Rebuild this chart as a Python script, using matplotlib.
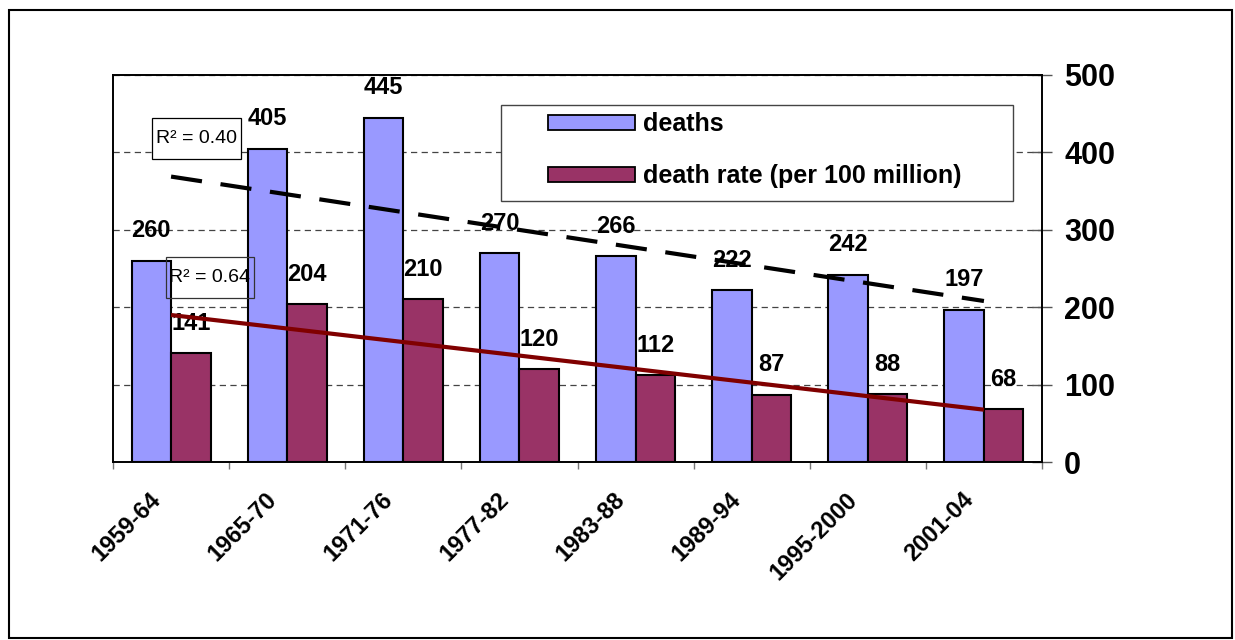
import matplotlib
matplotlib.use('Agg')
import matplotlib.pyplot as plt
import matplotlib.transforms as mtransforms
from matplotlib.patches import Rectangle, Patch
import numpy as np

# ---- data ----
categories = ['1959-64', '1965-70', '1971-76', '1977-82', '1983-88', '1989-94', '1995-2000', '2001-04']
deaths = [260, 405, 445, 270, 266, 222, 242, 197]
death_rate = [141, 204, 210, 120, 112, 87, 88, 68]
series_names = ['deaths', 'death rate (per 100 million)']
r2_labels = ['R\u00b2 = 0.40', 'R\u00b2 = 0.64']
y_ticks = [0, 100, 200, 300, 400, 500]

plt.rcParams['font.family'] = ['Liberation Sans', 'DejaVu Sans']

blue = '#9999FF'
maroon = '#993366'
trend_red = '#800000'

fig = plt.figure(figsize=(12.35, 6.4), dpi=100)
ax = fig.add_axes([113 / 1235, 178 / 640, 929 / 1235, 387 / 640])

x = np.arange(len(categories))
w = 0.34
ax.bar(x - w / 2, deaths, w, color=blue, edgecolor='black', linewidth=1.5, zorder=2)
ax.bar(x + w / 2, death_rate, w, color=maroon, edgecolor='black', linewidth=1.5, zorder=2)

# linear trendlines (computed from the data)
ends = x[[0, -1]]
c1 = np.polyfit(x, deaths, 1)
c2 = np.polyfit(x, death_rate, 1)
ax.plot(ends, np.polyval(c1, ends), color='black', lw=3, dashes=(7.5, 4.5), zorder=4)
ax.plot(ends, np.polyval(c2, ends), color=trend_red, lw=3, zorder=4, solid_capstyle='butt')

# data labels
for xi, v in zip(x - w / 2, deaths):
    ax.annotate(str(v), (xi, v), xytext=(0, 21.5), textcoords='offset points',
                ha='center', va='center', fontsize=17, fontweight='bold', zorder=3)
for xi, v in zip(x + w / 2, death_rate):
    ax.annotate(str(v), (xi, v), xytext=(0, 21.5), textcoords='offset points',
                ha='center', va='center', fontsize=17, fontweight='bold', zorder=3)

ax.set_xlim(-0.5, len(categories) - 0.5)
ax.set_ylim(0, 500)

# grid
ax.set_axisbelow(True)
ax.yaxis.grid(True, color='#444444', lw=0.9, linestyle=(0, (5, 3.5)))

# y axis on the right
ax.yaxis.tick_right()
ax.set_yticks(y_ticks)
ax.set_yticklabels([str(t) for t in y_ticks], fontsize=22, fontweight='bold')
ax.tick_params(axis='y', direction='inout', length=14, width=1, color='#555555', pad=9)

# x axis: labels at centres, tick marks at boundaries
ax.set_xticks(x)
ax.set_xticklabels(categories, rotation=45, ha='right', va='top', fontsize=17, fontweight='bold')
ax.set_xticks(np.arange(len(categories) + 1) - 0.5, minor=True)
ax.tick_params(axis='x', which='major', length=0, pad=19)
ax.tick_params(axis='x', which='minor', length=5, width=1, color='#777777', direction='out')
shift = mtransforms.ScaledTranslation(-0.06, 0, fig.dpi_scale_trans)
for lab in ax.get_xticklabels():
    lab.set_transform(lab.get_transform() + shift)

for s in ax.spines.values():
    s.set_color('black')
    s.set_linewidth(1.4)

# legend box
ax.add_patch(Rectangle((0.4177, 0.674), 0.551, 0.2485, transform=ax.transAxes,
                       facecolor='white', edgecolor='#444444', lw=1.0, zorder=5))
handles = [Patch(facecolor=blue, edgecolor='black', lw=1.3),
           Patch(facecolor=maroon, edgecolor='black', lw=1.3)]
leg = ax.legend(handles, series_names, loc='center left', bbox_to_anchor=(0.468, 0.8056),
                frameon=False, borderpad=0, borderaxespad=0, handlelength=3.5,
                handleheight=0.55, handletextpad=0.3, labelspacing=1.1,
                prop={'weight': 'bold', 'size': 18})
leg.set_zorder(6)

# R^2 boxes
ax.add_patch(Rectangle((0.042, 0.783), 0.0958, 0.106, transform=ax.transAxes,
                       facecolor='white', edgecolor='black', lw=0.9, zorder=5))
ax.text(0.042 + 0.0958 / 2, 0.783 + 0.106 / 2, r2_labels[0], transform=ax.transAxes,
        ha='center', va='center', fontsize=14, zorder=6)
ax.add_patch(Rectangle((0.057, 0.4238), 0.0947, 0.106, transform=ax.transAxes,
                       facecolor='none', edgecolor='#333333', lw=0.9, zorder=5))
ax.text(0.057 + 0.0947 / 2, 0.4238 + 0.106 / 2, r2_labels[1], transform=ax.transAxes,
        ha='center', va='center', fontsize=14, zorder=6)

# outer chart border
fig.add_artist(Rectangle((9 / 1235, 2 / 640), 1223 / 1235, 628 / 640, transform=fig.transFigure,
                         fill=False, edgecolor='black', lw=1.5))

fig.savefig('out.png', dpi=100)
